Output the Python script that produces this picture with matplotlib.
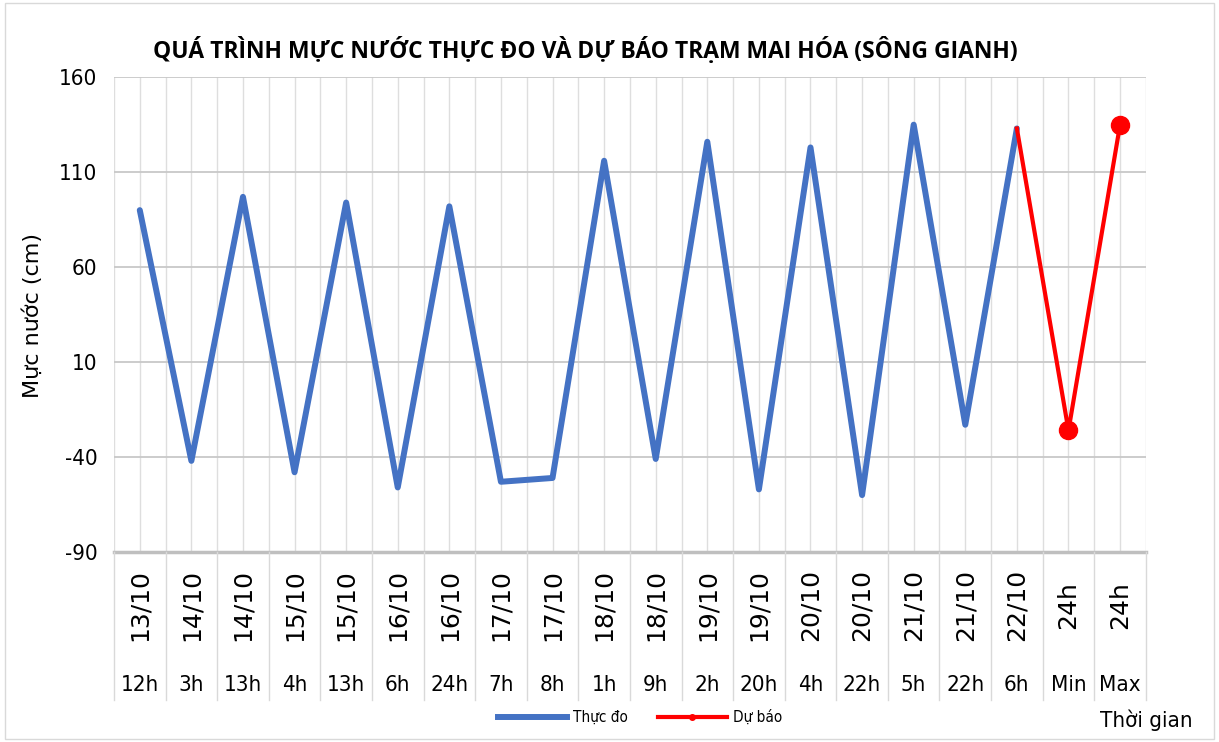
import numpy as np
import matplotlib
matplotlib.use("Agg")
import matplotlib.pyplot as plt
from matplotlib.lines import Line2D
from matplotlib.patches import Rectangle
import matplotlib.transforms as mtransforms

################################################################################
# data
dates = ["13/10", "14/10", "14/10", "15/10", "15/10", "16/10", "16/10", "17/10",
         "17/10", "18/10", "18/10", "19/10", "19/10", "20/10", "20/10", "21/10",
         "21/10", "22/10", "24h", "24h"]
hours = ["12h", "3h", "13h", "4h", "13h", "6h", "24h", "7h", "8h", "1h", "9h",
         "2h", "20h", "4h", "22h", "5h", "22h", "6h", "Min", "Max"]
observed = [90, -42, 97, -48, 94, -56, 92, -53, -51, 116, -41, 126, -57, 123,
            -60, 135, -23, 133]
forecast = [133, -26, 135]   # starts at last observed point, then Min / Max

################################################################################
plt.rcParams["font.family"] = ["Liberation Sans Narrow", "DejaVu Sans"]
plt.rcParams["font.stretch"] = "condensed"
plt.rcParams["axes.unicode_minus"] = False

fig = plt.figure(figsize=(12.19, 7.42), dpi=100)
ax = fig.add_axes([0.0935, 0.256, 0.8465, 0.64])

n = len(hours)
x = np.arange(n)
x_obs = x[:len(observed)]
x_fc = x[len(observed) - 1:len(observed) - 1 + len(forecast)]

ax.plot(x_obs, observed, color="#4472C4", lw=4.3, solid_capstyle="round",
        solid_joinstyle="round", zorder=3)
ax.plot(x_fc, forecast, color="#FF0000", lw=3.0, solid_joinstyle="round", zorder=4)
ax.plot(x_fc[1:], forecast[1:], "o", color="#FF0000", ms=13, zorder=5)

ax.set_xlim(-0.5, n - 0.5)
ax.set_ylim(-90, 160)
ax.set_yticks(np.arange(-90, 161, 50))
ax.tick_params(axis="y", length=0, labelsize=16, pad=12)
ax.set_xticks([])

# gridlines
for yv in np.arange(-40, 161, 50):
    ax.axhline(yv, color="#C8C8C8", lw=1.3, zorder=1)
for xv in np.arange(-0.5, n, 0.5):
    ax.axvline(xv, color="#DEDEDE", lw=1.0, zorder=0)
ax.axhline(-90, color="#BFBFBF", lw=2.5, zorder=2, clip_on=False)

for s in ax.spines.values():
    s.set_visible(False)

# two level category axis
trans = mtransforms.blended_transform_factory(ax.transData, ax.transAxes)
for xv in np.arange(-0.5, n, 1.0):
    ax.plot([xv, xv], [0, -0.312], color="#D9D9D9", lw=1.0, transform=trans,
            clip_on=False)
for i in range(n):
    ax.text(i, -0.112, dates[i], transform=trans, rotation=90, ha="center",
            va="center", fontsize=18, family="DejaVu Sans", stretch="normal")
    ax.text(i, -0.28, hours[i], transform=trans, ha="center", va="center",
            fontsize=16)

fig.text(0.027, 0.575, "Mực nước (cm)", rotation=90, ha="center", va="center",
         fontsize=16, family="DejaVu Sans", stretch="normal")

fig.text(0.48, 0.932, "QUÁ TRÌNH MỰC NƯỚC THỰC ĐO VÀ DỰ BÁO TRẠM MAI HÓA (SÔNG GIANH)",
         ha="center", va="center", fontsize=16.5, fontweight="bold",
         family=["Open Sans", "DejaVu Sans"], stretch="normal")
fig.text(0.94, 0.029, "Thời gian", ha="center", va="center", fontsize=16)

handles = [Line2D([], [], color="#4472C4", lw=4.3),
           Line2D([], [], color="#FF0000", lw=3.0, marker="o", ms=4)]
fig.legend(handles, ["Thực đo", "Dự báo"], loc="center", ncol=2,
           bbox_to_anchor=(0.525, 0.033), frameon=False, fontsize=11,
           handlelength=4.5, columnspacing=2.0, handletextpad=0.4)

fig.patches.append(Rectangle((0.004, 0.004), 0.992, 0.992, transform=fig.transFigure,
                             fill=False, edgecolor="#D9D9D9", lw=1.0))

fig.savefig("out.png", dpi=100)
